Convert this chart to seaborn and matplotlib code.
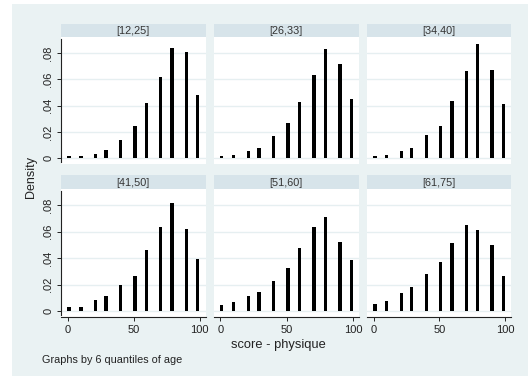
import matplotlib
matplotlib.use("Agg")
import matplotlib.pyplot as plt
import seaborn as sns
import pandas as pd
from matplotlib.patches import Rectangle

# ---- data ----
groups = ["[12,25]", "[26,33]", "[34,40]", "[41,50]", "[51,60]", "[61,75]"]
scores = [1, 10, 21, 29, 40, 51, 59.5, 70.5, 79, 90, 98.5]
dens_12_25 = [0.0013, 0.0013, 0.0030, 0.0063, 0.0137, 0.0243, 0.0423, 0.0618, 0.0835, 0.0808, 0.0478]
dens_26_33 = [0.0015, 0.0023, 0.0056, 0.0078, 0.0172, 0.0268, 0.0430, 0.0633, 0.0828, 0.0714, 0.0448]
dens_34_40 = [0.0015, 0.0023, 0.0053, 0.0078, 0.0177, 0.0243, 0.0438, 0.0666, 0.0870, 0.0673, 0.0415]
dens_41_50 = [0.0033, 0.0033, 0.0083, 0.0114, 0.0197, 0.0268, 0.0462, 0.0633, 0.0820, 0.0618, 0.0391]
dens_51_60 = [0.0043, 0.0066, 0.0114, 0.0146, 0.0227, 0.0326, 0.0480, 0.0633, 0.0707, 0.0522, 0.0384]
dens_61_75 = [0.0050, 0.0073, 0.0139, 0.0179, 0.0278, 0.0373, 0.0512, 0.0651, 0.0615, 0.0502, 0.0267]
all_dens = [dens_12_25, dens_26_33, dens_34_40, dens_41_50, dens_51_60, dens_61_75]
yticks = [0, 0.02, 0.04, 0.06, 0.08]
ytick_labels = ["0", ".02", ".04", ".06", ".08"]
xticks = [0, 50, 100]
xtick_labels = ["0", "50", "100"]

rows = []
for g, d in zip(groups, all_dens):
    for s, v in zip(scores, d):
        rows.append({"group": g, "score": s, "density": v})
df = pd.DataFrame(rows)

# ---- style ----
sns.set_style("white")
plt.rcParams["font.family"] = ["Liberation Sans", "DejaVu Sans"]

W, H = 528, 378
BG = "#EAF2F3"
STRIP = "#D7E4EA"
GRID = "#E6EFF1"
AX = "#222222"

fig = plt.figure(figsize=(W / 100, H / 100), dpi=100)
fig.patch.set_facecolor("white")
fig.patches.append(Rectangle((12 / W, 1 - 376 / H), (W - 12) / W, (376 - 4) / H,
                             transform=fig.transFigure, facecolor=BG, edgecolor="none", zorder=-10))

cols_px = [(61, 205.6), (213.7, 359), (367, 511)]
rows_px = [(37, 164), (189, 317)]
strips_px = [(24, 37), (175, 189)]

def fx(x):
    return x / W

def fy(y):
    return 1 - y / H

for i, g in enumerate(groups):
    r, c = divmod(i, 3)
    x0, x1 = cols_px[c]
    y0, y1 = rows_px[r]
    ax = fig.add_axes([fx(x0), fy(y1), fx(x1) - fx(x0), fy(y0) - fy(y1)])
    ax.set_facecolor("white")
    sub = df[df["group"] == g]
    sns.barplot(data=sub, x="score", y="density", native_scale=True, color="black",
                saturation=1, width=0.31, errorbar=None, linewidth=0, ax=ax, zorder=3)
    ax.set_xlim(-5.1, 104.4)
    ax.set_ylim(-0.0045, 0.0922)
    for yv in yticks:
        ax.axhline(yv, color=GRID, lw=1.0, zorder=1)
    for s in ax.spines.values():
        s.set_visible(False)
    ax.set_xlabel("")
    ax.set_ylabel("")
    if c == 0:
        ax.spines["left"].set_visible(True)
        ax.spines["left"].set_color(AX)
        ax.spines["left"].set_linewidth(0.8)
        ax.spines["left"].set_bounds(-0.003, 0.091)
        ax.set_yticks(yticks)
        ax.set_yticklabels(ytick_labels, rotation=90, va="center", fontsize=8, color=AX)
        ax.tick_params(axis="y", direction="out", length=3, width=0.7, color=AX, pad=2.5, left=True)
    else:
        ax.set_yticks([])
    if r == 1:
        ax.spines["bottom"].set_visible(True)
        ax.spines["bottom"].set_color(AX)
        ax.spines["bottom"].set_linewidth(0.8)
        ax.set_xticks(xticks)
        ax.set_xticklabels(xtick_labels, fontsize=8, color=AX)
        ax.tick_params(axis="x", direction="out", length=3, width=0.7, color=AX, pad=2.5, bottom=True)
    else:
        ax.set_xticks([])
    # strip header
    sy0, sy1 = strips_px[r]
    fig.patches.append(Rectangle((fx(x0), fy(sy1)), fx(x1) - fx(x0), fy(sy0) - fy(sy1),
                                 transform=fig.transFigure, facecolor=STRIP, edgecolor="none", zorder=-5))
    fig.text(fx((x0 + x1) / 2), fy((sy0 + sy1) / 2 + 0.5), g, ha="center", va="center",
             fontsize=7.8, color="#333333")

fig.text(fx(31), fy(177.5), "Density", rotation=90, ha="center", va="center", fontsize=9, color=AX)
fig.text(fx(278), fy(345), "score - physique", ha="center", va="center", fontsize=9.3, color=AX)
fig.text(fx(42), fy(360), "Graphs by 6 quantiles of age", ha="left", va="center", fontsize=7.8, color=AX)

fig.savefig("out.png", dpi=100, facecolor=fig.get_facecolor())
